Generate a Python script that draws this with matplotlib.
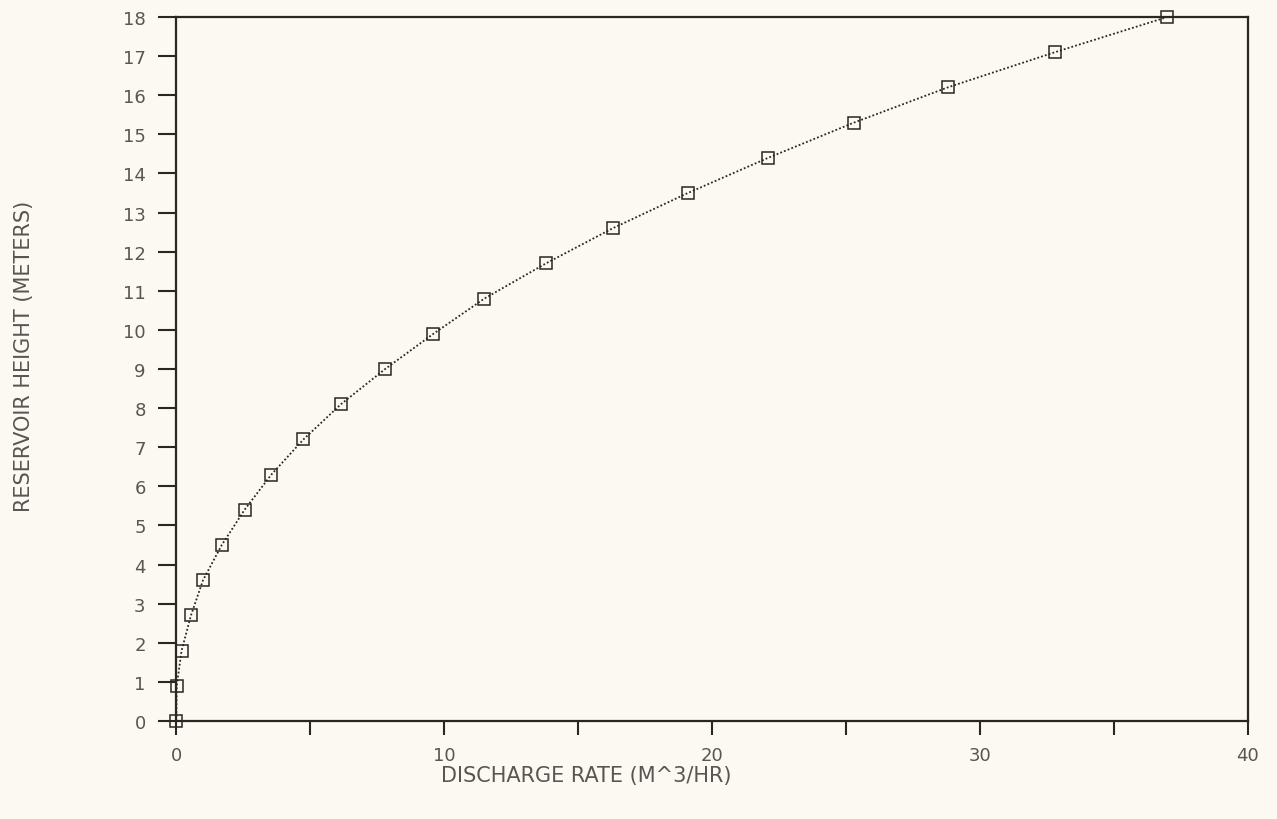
import matplotlib
matplotlib.use("Agg")
import matplotlib.pyplot as plt
from matplotlib.ticker import MultipleLocator

# discharge rate (m^3/hr) vs reservoir height (m)
discharge = [0.0, 0.02, 0.2, 0.55, 1.0, 1.7, 2.55, 3.55, 4.75, 6.15, 7.8,
             9.6, 11.5, 13.8, 16.3, 19.1, 22.1, 25.3, 28.8, 32.8, 37.0]
height = [0.0, 0.9, 1.8, 2.7, 3.6, 4.5, 5.4, 6.3, 7.2, 8.1, 9.0,
          9.9, 10.8, 11.7, 12.6, 13.5, 14.4, 15.3, 16.2, 17.1, 18.0]

x_ticks = [0, 10, 20, 30, 40]
y_ticks = list(range(0, 19))

paper = "#fbf9f1"
ink = "#2a2624"
text_col = "#5a5552"

fig = plt.figure(figsize=(12.77, 8.2), dpi=100, facecolor=paper)
ax = fig.add_axes([0.138, 0.1195, 0.839, 0.8585], facecolor=paper)

ax.plot(discharge, height, linestyle=(0, (1, 1.2)), color=ink, lw=1.3,
        marker="s", markersize=9, markerfacecolor="none",
        markeredgecolor=ink, markeredgewidth=1.1, clip_on=False, zorder=3)

ax.set_xlim(0, 40)
ax.set_ylim(0, 18)
ax.set_xticks(x_ticks)
ax.xaxis.set_minor_locator(MultipleLocator(5))
ax.set_yticks(y_ticks)

for s in ax.spines.values():
    s.set_color(ink)
    s.set_linewidth(1.6)

ax.tick_params(axis="both", which="both", direction="out", color=ink,
               width=1.5, labelcolor=text_col, labelsize=13)
ax.tick_params(axis="y", length=13, pad=9)
ax.tick_params(axis="x", which="both", length=10, pad=8)

ax.set_xlabel("DISCHARGE RATE (M^3/HR)", fontsize=15, color=text_col)
ax.xaxis.set_label_coords(0.383, -0.062)
ax.set_ylabel("RESERVOIR HEIGHT (METERS)", fontsize=15, color=text_col)
ax.yaxis.set_label_coords(-0.133, 0.52)

fig.savefig("out.png", dpi=100, facecolor=paper)
